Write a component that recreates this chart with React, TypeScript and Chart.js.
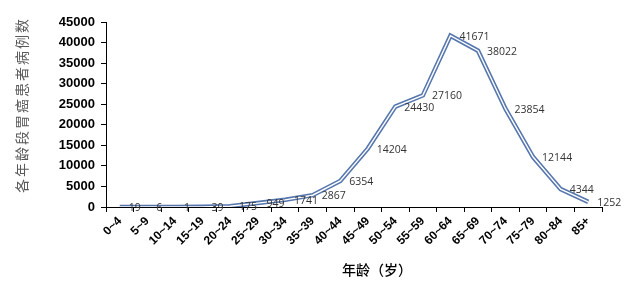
import React, { useEffect, useRef } from "react";
import { Chart, registerables } from "chart.js";

Chart.register(...registerables);

const categories = ["0~4", "5~9", "10~14", "15~19", "20~24", "25~29", "30~34", "35~39", "40~44", "45~49", "50~54", "55~59", "60~64", "65~69", "70~74", "75~79", "80~84", "85+"];
const cases = [19, 6, 1, 39, 175, 949, 1741, 2867, 6354, 14204, 24430, 27160, 41671, 38022, 23854, 12144, 4344, 1252];
const yTitle = "各年龄段胃癌患者病例数";
const xTitle = "年龄（岁）";

const labelPlugin = {
  id: "extras",
  afterDatasetsDraw(chart: any) {
    const ctx = chart.ctx;
    const meta = chart.getDatasetMeta(1);
    ctx.save();
    ctx.font = "10.5px 'Open Sans'";
    ctx.fillStyle = "#333333";
    ctx.textAlign = "left";
    ctx.textBaseline = "middle";
    meta.data.forEach((pt: any, i: number) => {
      ctx.fillText(String(cases[i]), pt.x + 9, pt.y + 1);
    });
    ctx.restore();
  },
  afterDraw(chart: any) {
    const ctx = chart.ctx;
    ctx.save();
    ctx.translate(22, 105);
    ctx.rotate(-Math.PI / 2);
    ctx.font = "14px 'Noto Sans CJK SC'";
    (ctx as any).letterSpacing = "2px";
    ctx.fillStyle = "#595959";
    ctx.textAlign = "center";
    ctx.textBaseline = "middle";
    ctx.fillText(yTitle, 0, 0);
    ctx.restore();
    ctx.save();
    ctx.font = "500 14px 'Noto Sans CJK SC'";
    ctx.fillStyle = "#000";
    ctx.textAlign = "center";
    ctx.textBaseline = "middle";
    ctx.fillText(xTitle, 377, 270);
    ctx.restore();
  },
};

export default function App() {
  const ref = useRef<HTMLCanvasElement>(null);
  useEffect(() => {
    if (!ref.current) return;
    const chart = new Chart(ref.current, {
      type: "line",
      data: {
        labels: categories,
        datasets: [
          {
            data: cases,
            borderColor: "#5676ae",
            borderWidth: 4.5,
            pointRadius: 0,
            tension: 0,
            fill: false,
            borderJoinStyle: "miter",
            order: 2,
          },
          {
            data: cases,
            borderColor: "#ffffff",
            borderWidth: 1.4,
            pointRadius: 0,
            tension: 0,
            fill: false,
            borderJoinStyle: "miter",
            order: 1,
          },
        ],
      },
      options: {
        animation: false,
        responsive: true,
        maintainAspectRatio: false,
        layout: { padding: { left: 0, top: 22, right: 38, bottom: 0 } },
        plugins: { legend: { display: false }, tooltip: { enabled: false } },
        scales: {
          x: {
            offset: true,
            grid: { display: true, offset: true, drawOnChartArea: false, drawTicks: true, tickLength: 5, color: "#000" },
            border: { display: true, color: "#000", width: 1 },
            ticks: {
              autoSkip: false,
              minRotation: 45,
              maxRotation: 45,
              padding: 2,
              color: "#000",
              font: { family: "'Liberation Sans', Arial", size: 12, weight: "bold" },
            },
            afterFit: (s: any) => {
              s.height = 78;
            },
          },
          y: {
            min: 0,
            max: 45000,
            grid: { display: true, drawOnChartArea: false, drawTicks: true, tickLength: 5, color: "#000" },
            border: { display: true, color: "#000", width: 1 },
            ticks: {
              stepSize: 5000,
              padding: 6,
              color: "#000",
              font: { family: "'Liberation Sans', Arial", size: 13, weight: "bold" },
              callback: (v: any) => String(v),
            },
            afterFit: (s: any) => {
              s.width = 106;
            },
          },
        },
      },
      plugins: [labelPlugin],
    });
    return () => chart.destroy();
  }, []);
  return (
    <div style={{ position: "absolute", left: 0, top: 0, width: 640, height: 285, background: "#fff" }}>
      <canvas ref={ref} />
    </div>
  );
}
